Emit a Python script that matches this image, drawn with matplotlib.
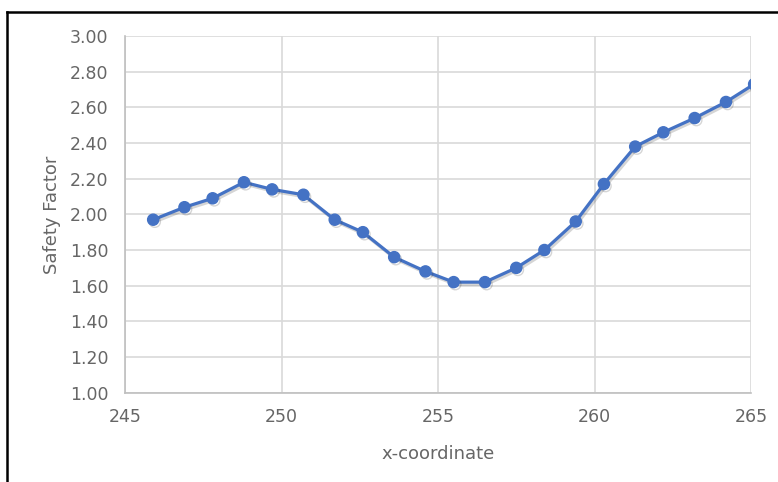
import matplotlib
matplotlib.use("Agg")
import matplotlib.pyplot as plt
import matplotlib.patheffects as pe
from matplotlib.lines import Line2D

# Safety factor along the slip surface x-coordinate
x_coord = [245.9, 246.9, 247.8, 248.8, 249.7, 250.7, 251.7, 252.6, 253.6, 254.6,
           255.5, 256.5, 257.5, 258.4, 259.4, 260.3, 261.3, 262.2, 263.2, 264.2, 265.1]
safety_factor = [1.97, 2.04, 2.09, 2.18, 2.14, 2.11, 1.97, 1.90, 1.76, 1.68,
                 1.62, 1.62, 1.70, 1.80, 1.96, 2.17, 2.38, 2.46, 2.54, 2.63, 2.73]

x_ticks = [245, 250, 255, 260, 265]
y_ticks = [1.00, 1.20, 1.40, 1.60, 1.80, 2.00, 2.20, 2.40, 2.60, 2.80, 3.00]

plt.rcParams['font.family'] = ['DejaVu Sans']
text_color = '#666666'

W, H = 778, 482
fig = plt.figure(figsize=(W / 100, H / 100), dpi=100)
ax = fig.add_axes([125 / W, 1 - 392.7 / H, (751 - 125) / W, (392.7 - 36) / H])

blue = '#4472C4'
ax.plot(x_coord, safety_factor, color=blue, lw=2.3, marker='o', ms=8,
        markeredgecolor=blue, markerfacecolor=blue, zorder=3, clip_on=True,
        path_effects=[pe.SimpleLineShadow(offset=(1.2, -1.5), alpha=0.2, shadow_color='#303030'),
                      pe.Normal()])

ax.set_xlim(245, 265)
ax.set_ylim(1.0, 3.0)
ax.set_xticks(x_ticks)
ax.set_yticks(y_ticks)
ax.set_xticklabels([str(v) for v in x_ticks])
ax.set_yticklabels([f"{v:.2f}" for v in y_ticks])

ax.grid(True, color='#d9d9d9', lw=1.2)
ax.set_axisbelow(True)
for side in ['top', 'right']:
    ax.spines[side].set_visible(False)
for side in ['left', 'bottom']:
    ax.spines[side].set_color('#bfbfbf')
    ax.spines[side].set_linewidth(1.2)

ax.tick_params(axis='both', length=0, labelcolor=text_color, labelsize=12.5)
ax.tick_params(axis='y', pad=12)
ax.tick_params(axis='x', pad=11)

ax.set_xlabel('x-coordinate', color=text_color, fontsize=13, labelpad=14)
ax.set_ylabel('Safety Factor', color=text_color, fontsize=13, labelpad=6)

# outer frame (top and left edges)
fig.add_artist(Line2D([7 / W, 1.0], [1 - 12 / H, 1 - 12 / H], color='black', lw=1.8,
                      transform=fig.transFigure))
fig.add_artist(Line2D([7 / W, 7 / W], [0.0, 1 - 12 / H], color='black', lw=1.8,
                      transform=fig.transFigure))

fig.savefig('out.png', dpi=100, facecolor='white')
